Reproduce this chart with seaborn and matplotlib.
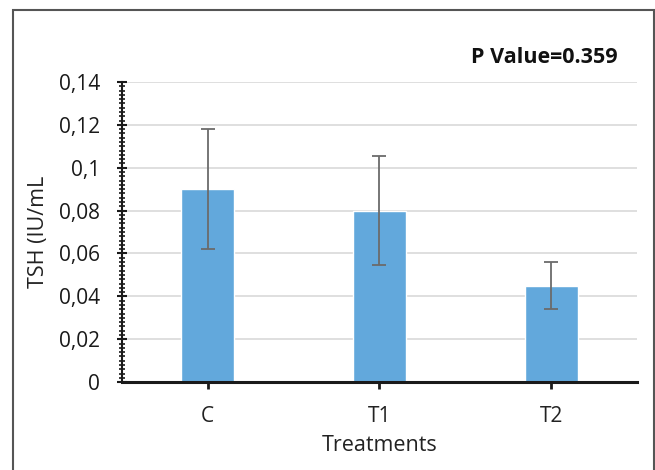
import matplotlib
matplotlib.use("Agg")
import matplotlib.pyplot as plt
import matplotlib.ticker as ticker
from matplotlib.patches import Rectangle
import pandas as pd
import seaborn as sns

# data
treatments = ["C", "T1", "T2"]
tsh_mean = [0.090, 0.080, 0.045]
tsh_err = [0.028, 0.0255, 0.011]
p_text = "P Value=0.359"

sns.set_style("white")
plt.rcParams['font.family'] = ['Open Sans', 'DejaVu Sans']

df = pd.DataFrame({"Treatments": treatments, "TSH": tsh_mean})

fig = plt.figure(figsize=(6.55, 4.7), dpi=100)
ax = fig.add_axes([0.186, 0.187, 0.7865, 0.6385])

sns.barplot(data=df, x="Treatments", y="TSH", color="#62A8DC", saturation=1,
            width=0.31, errorbar=None, ax=ax, zorder=2)
ax.errorbar(range(len(treatments)), tsh_mean, yerr=tsh_err, fmt="none",
            ecolor="#6b6b6b", elinewidth=1.3, capsize=5, capthick=1.3, zorder=3)

ax.set_ylim(0, 0.14)
ax.set_xlim(-0.5, 2.5)
ax.yaxis.set_major_locator(ticker.MultipleLocator(0.02))
ax.yaxis.set_minor_locator(ticker.AutoMinorLocator(10))
ax.yaxis.set_major_formatter(ticker.FuncFormatter(
    lambda v, p: "0" if v == 0 else ("%g" % round(v, 2)).replace(".", ",")))
ax.yaxis.grid(True, color="#d9d9d9", linewidth=1.2, zorder=0)
ax.set_axisbelow(True)

for s in ["top", "right"]:
    ax.spines[s].set_visible(False)
ax.spines["left"].set_color("#1a1a1a")
ax.spines["left"].set_linewidth(1.5)
ax.spines["bottom"].set_color("#1a1a1a")
ax.spines["bottom"].set_linewidth(2.2)

ax.tick_params(axis="y", which="both", left=True)
ax.tick_params(axis="x", which="major", bottom=True)
ax.tick_params(axis="y", which="major", direction="inout", length=7, width=1.5,
               color="#1a1a1a", labelsize=15, pad=12, labelcolor="#1a1a1a")
ax.tick_params(axis="y", which="minor", direction="inout", length=5, width=1.2,
               color="#1a1a1a")
ax.tick_params(axis="x", which="major", direction="out", length=5, width=2,
               color="#1a1a1a", labelsize=15, pad=12, labelcolor="#222222")

ax.set_xlabel("Treatments", fontsize=15.5, color="#222222", labelpad=6)
ax.set_ylabel("TSH (IU/mL", fontsize=15.5, color="#222222", labelpad=7)

fig.text(0.943, 0.878, p_text, fontsize=15.5, fontweight="bold",
         ha="right", va="center", color="#111111")

# outer frame around the chart
fig.patches.append(Rectangle((13 / 655, -0.05), 641 / 655, 1 - 10 / 470 + 0.05,
                             transform=fig.transFigure, fill=False,
                             edgecolor="#555555", linewidth=1.5))

fig.savefig("out.png", dpi=100)
